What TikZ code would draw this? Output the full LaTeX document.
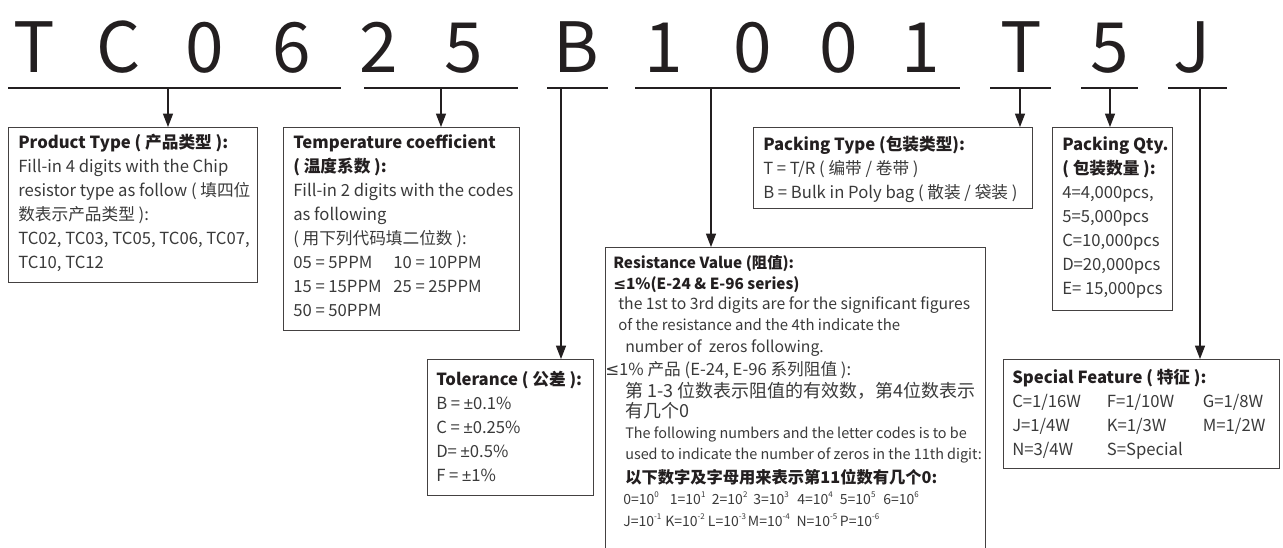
\documentclass[tikz,border=0pt]{standalone}
\usepackage{fontspec}
\setmainfont{Noto Sans CJK SC}
\newfontfamily\symf{DejaVu Sans}
\newfontfamily\pmf{Liberation Sans}
\usetikzlibrary{arrows.meta,calc}
\definecolor{ink}{HTML}{231F20}
\definecolor{txtc}{HTML}{3A3A3A}
\newcommand\rows[1]{\begin{tabular}[t]{@{}l@{}}#1\end{tabular}}
\newcommand\ttl[1]{{\bfseries\color{ink}#1}}
\newcommand\lesym{{\symf ≤}}
\newcommand\pmm{{\pmf ±}}
\newcommand\sx[1]{\raisebox{0.9ex}{\fontsize{6}{6}\selectfont #1}}
\tikzset{
  big/.style={font=\fontsize{52}{52}\selectfont, text=ink, anchor=base, inner sep=0},
  uline/.style={line width=1.5pt, draw=ink},
  arr/.style={line width=0.9pt, draw=ink, -{Triangle[length=10pt,width=7.5pt]}},
  box/.style={draw=ink!85, line width=1pt, anchor=north west, inner sep=0},
  txt/.style={anchor=base west, inner sep=0, text=txtc, font=\fontsize{12.5}{18}\selectfont},
  rtxt/.style={anchor=base west, inner sep=0, text=txtc, font=\fontsize{11}{13}\selectfont},
}
\begin{document}
\begin{tikzpicture}[x=0.75pt,y=-0.75pt]
\useasboundingbox (0,0) rectangle (1283,547);
% code letters
\node[big] (l1) at (34,72) {T};
\node[big] (l2) at (119,72) {C};
\node[big] (l3) at (205,72) {0};
\node[big] (l4) at (292,72) {6};
\node[big] (l5) at (379,72) {2};
\node[big] (l6) at (464,72) {5};
\node[big] (l7) at (576,72) {B};
\node[big] (l8) at (664,72) {1};
\node[big] (l9) at (753,72) {0};
\node[big] (l10) at (839,72) {0};
\node[big] (l11) at (921,72) {1};
\node[big] (l12) at (1021,72) {T};
\node[big] (l13) at (1110,72) {5};
\node[big] (l14) at (1192,72) {J};
% underlines
\coordinate (s1a) at (8,88);   \coordinate (s1b) at (341,88);
\coordinate (s2a) at (364,88); \coordinate (s2b) at (518,88);
\coordinate (s3a) at (547,88); \coordinate (s3b) at (608,88);
\coordinate (s4a) at (635,88); \coordinate (s4b) at (960,88);
\coordinate (s5a) at (990,88); \coordinate (s5b) at (1051,88);
\coordinate (s6a) at (1081,88);\coordinate (s6b) at (1138,88);
\coordinate (s7a) at (1168,88);\coordinate (s7b) at (1227,88);
\foreach \i in {1,...,7}{\draw[uline] (s\i a) -- (s\i b);}
\coordinate (a1) at (168,88);
\coordinate (a2) at (441,88);
\coordinate (a3) at (561,88);
\coordinate (a4) at (711,88);
\coordinate (a5) at (1020,88);
\coordinate (a6) at (1110,88);
\coordinate (a7) at (1200,88);
% boxes
\node[box, minimum width=249*0.75pt, minimum height=155*0.75pt] (pt) at (8,127) {};
\node[box, minimum width=236*0.75pt, minimum height=203*0.75pt] (tc) at (283,127) {};
\node[box, minimum width=166*0.75pt, minimum height=136*0.75pt] (tol) at (427,359) {};
\node[box, minimum width=380*0.75pt, minimum height=330*0.75pt] (res) at (605,247) {};
\node[box, minimum width=279*0.75pt, minimum height=81*0.75pt] (pk) at (753,127) {};
\node[box, minimum width=120*0.75pt, minimum height=183*0.75pt] (qty) at (1052,127) {};
\node[box, minimum width=276*0.75pt, minimum height=109*0.75pt] (sf) at (1003,359) {};
% arrows
\draw[arr] (a1) -- (a1 |- pt.north);
\draw[arr] (a2) -- (a2 |- tc.north);
\draw[arr] (a3) -- (a3 |- tol.north);
\draw[arr] (a4) -- (a4 |- res.north);
\draw[arr] (a5) -- (a5 |- pk.north);
\draw[arr] (a6) -- (a6 |- qty.north);
\draw[arr] (a7) -- (a7 |- sf.north);
% texts
\node[txt] (pt-t) at (18,148) {\rows{\ttl{Product Type ( 产品类型 ):}\\
Fill-in 4 digits with the Chip\\
resistor type as follow ( 填四位\\
数表示产品类型 ):\\
TC02, TC03, TC05, TC06, TC07,\\
TC10, TC12}};
\node[txt] (tc-t) at (293,148) {\rows{\ttl{Temperature coefficient}\\
\ttl{( 温度系数 ):}\\
Fill-in 2 digits with the codes\\
as following\\
( 用下列代码填二位数 ):\\
\makebox[75pt][l]{05 = 5PPM}10 = 10PPM\\
\makebox[75pt][l]{15 = 15PPM}25 = 25PPM\\
50 = 50PPM}};
\node[txt] (tol-t) at (436,385) {\rows{\ttl{Tolerance ( 公差 ):}\\
B = \pmm0.1\%\\
C = \pmm0.25\%\\
D= \pmm0.5\%\\
F = \pmm1\%}};
\node[txt] (pk-t) at (763,150) {\rows{\ttl{Packing Type (包装类型):}\\
T = T/R ( 编带 / 卷带 )\\
B = Bulk in Poly bag ( 散装 / 袋装 )}};
\node[txt] (qty-t) at (1062,150) {\rows{\ttl{Packing Qty.}\\
\ttl{( 包装数量 ):}\\
4=4,000pcs,\\
5=5,000pcs\\
C=10,000pcs\\
D=20,000pcs\\
E= 15,000pcs}};
\node[txt] (sf-t) at (1012,383) {\rows{\ttl{Special Feature ( 特征 ):}\\
\makebox[71pt][l]{C=1/16W}\makebox[72pt][l]{F=1/10W}G=1/8W\\
\makebox[71pt][l]{J=1/4W}\makebox[72pt][l]{K=1/3W}M=1/2W\\
\makebox[71pt][l]{N=3/4W}S=Special}};
% resistance value lines
\node[rtxt, font=\fontsize{11.5}{13}\selectfont] (r1) at (613,268) {\ttl{Resistance Value (阻值):}};
\node[rtxt, font=\fontsize{11.5}{13}\selectfont] (r2) at (613,289) {\ttl{\lesym1\%(E-24 \& E-96 series)}};
\node[rtxt, font=\fontsize{11.8}{13}\selectfont] (r3) at (618,309) {the 1st to 3rd digits are for the significant figures};
\node[rtxt, font=\fontsize{11.2}{13}\selectfont] (r4) at (618,330) {of the resistance and the 4th indicate the};
\node[rtxt, font=\fontsize{11.8}{13}\selectfont] (r5) at (625,352) {number of\ \ zeros following.};
\node[rtxt, font=\fontsize{12.5}{13}\selectfont] (r6) at (605,375) {\lesym1\% 产品 (E-24, E-96 系列阻值 ):};
\node[rtxt, font=\fontsize{13.5}{15}\selectfont] (r7) at (625,397) {第 1-3 位数表示阻值的有效数，第4位数表示};
\node[rtxt, font=\fontsize{13.5}{15}\selectfont] (r8) at (625,417) {有几个0};
\node[rtxt, font=\fontsize{10.8}{13}\selectfont] (r9) at (625,438) {The following numbers and the letter codes is to be};
\node[rtxt, font=\fontsize{10.8}{13}\selectfont] (r10) at (625,459) {used to indicate the number of zeros in the 11th digit:};
\node[rtxt, font=\fontsize{12.2}{15}\selectfont] (r11) at (625,483) {\ttl{以下数字及字母用来表示第11位数有几个0:}};
\node[rtxt, font=\fontsize{10.5}{12}\selectfont] (r12) at (623,504) {\makebox[35pt][l]{0=10\sx{0}}\makebox[31.5pt][l]{1=10\sx{1}}\makebox[31pt][l]{2=10\sx{2}}\makebox[33pt][l]{3=10\sx{3}}\makebox[32pt][l]{4=10\sx{4}}\makebox[32.5pt][l]{5=10\sx{5}}6=10\sx{6}};
\node[rtxt, font=\fontsize{10.5}{12}\selectfont] (r13) at (623,526) {\makebox[31.5pt][l]{J=10\sx{-1}}\makebox[32pt][l]{K=10\sx{-2}}\makebox[30pt][l]{L=10\sx{-3}}\makebox[36.5pt][l]{M=10\sx{-4}}\makebox[32.5pt][l]{N=10\sx{-5}}P=10\sx{-6}};
\end{tikzpicture}
\end{document}
